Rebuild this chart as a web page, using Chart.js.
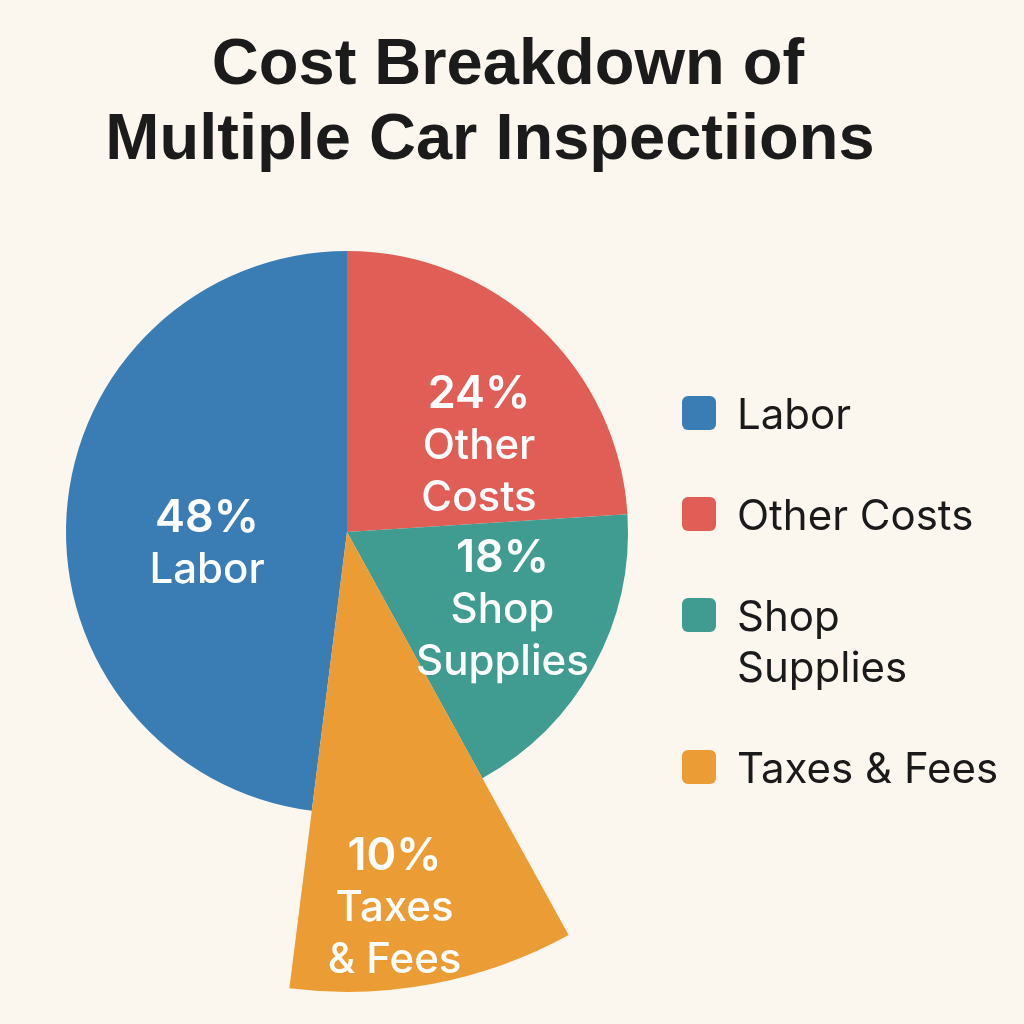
<!DOCTYPE html>
<html>
<head>
<meta charset="utf-8">
<script src="https://cdn.jsdelivr.net/npm/chart.js@4.4.1/dist/chart.umd.min.js"></script>
<style>
  html, body { margin: 0; padding: 0; background: #fcf7ee; }
  #wrap { position: relative; width: 1024px; height: 1024px; overflow: hidden; background: #fcf7ee; }
  #pie { position: absolute; left: 0; top: 0; }
  .title { position: absolute; left: 0; top: 24px; width: 1024px; text-align: center;
           font-family: 'Liberation Sans', Arial, sans-serif; font-weight: bold;
           font-size: 65px; line-height: 75px; color: #1b1b1b; }
  .title div { position: relative; }
  #legend { position: absolute; left: 682px; top: 388px; font-family: Inter, sans-serif;
            font-size: 42px; line-height: 51px; color: #1a1a1a; }
  .item { display: flex; align-items: flex-start; margin-bottom: 50px; }
  .box { flex: none; width: 34px; height: 34px; border-radius: 6px; margin-top: 8px; margin-right: 21px; }
</style>
</head>
<body>
<div id="wrap">
  <canvas id="pie" width="1024" height="1024"></canvas>
  <div class="title">
    <div style="left:-4px">Cost Breakdown of</div>
    <div style="left:-22px">Multiple Car Inspectiions</div>
  </div>
  <div id="legend"></div>
</div>
<script>
// datos del grafico
const categories = ['Labor', 'Other Costs', 'Shop Supplies', 'Taxes & Fees'];
const shares = [48, 24, 18, 10];
const sliceColors = ['#3a7db4', '#e05e56', '#409b91', '#ec9c34'];
const sliceLines = [['Labor'], ['Other', 'Costs'], ['Shop', 'Supplies'], ['Taxes', '& Fees']];
const legendLines = [['Labor'], ['Other Costs'], ['Shop', 'Supplies'], ['Taxes & Fees']];

// donde va cada texto dentro de su porcion (fraccion del angulo, fraccion del radio)
const labelPlace = [
    { t: 0.45, r: 0.50 },
    { t: 0.66, r: 0.56 },
    { t: 0.47, r: 0.62 },
    { t: 0.60, r: 1.35 }
];
const pieRadius = 281;
const taxesRadius = 460; // la porcion de impuestos sale del circulo

const total = shares.reduce((a, b) => a + b, 0);

// la porcion de impuestos se dibuja mas larga que las demas
const pullOut = {
    id: 'pullOut',
    afterDatasetsUpdate(chart) {
        const arcs = chart.getDatasetMeta(0).data;
        arcs[3].outerRadius = taxesRadius;
    }
};

// textos blancos dentro de cada porcion
const sliceText = {
    id: 'sliceText',
    afterDatasetsDraw(chart) {
        const ctx = chart.ctx;
        const meta = chart.getDatasetMeta(0);
        const base = meta.controller.outerRadius;
        meta.data.forEach((arc, i) => {
            const p = labelPlace[i];
            const a = arc.startAngle + (arc.endAngle - arc.startAngle) * p.t;
            const cx = arc.x + Math.cos(a) * base * p.r;
            const cy = arc.y + Math.sin(a) * base * p.r;
            const lines = [shares[i] + '%'].concat(sliceLines[i]);
            const step = 52;
            let y = cy - (lines.length - 1) / 2 * step;
            ctx.save();
            ctx.fillStyle = '#ffffff';
            ctx.textAlign = 'center';
            ctx.textBaseline = 'middle';
            lines.forEach((txt, k) => {
                ctx.font = k === 0 ? '600 45px Inter' : '500 42px Inter';
                ctx.fillText(txt, cx, y);
                y += step;
            });
            ctx.restore();
        });
    }
};

const ctx = document.getElementById('pie').getContext('2d');
const chart = new Chart(ctx, {
    type: 'pie',
    data: {
        labels: categories,
        datasets: [{
            data: shares,
            backgroundColor: sliceColors,
            borderWidth: 0,
            hoverOffset: 0,
            clip: false
        }]
    },
    options: {
        responsive: false,
        devicePixelRatio: 1,
        animation: false,
        events: [],
        rotation: 360 - shares[0] / total * 360,
        radius: pieRadius,
        layout: { padding: { left: 66, right: 396, top: 251, bottom: 211 } },
        plugins: {
            legend: { display: false },
            tooltip: { enabled: false }
        }
    },
    plugins: [pullOut, sliceText]
});

// leyenda a la derecha
const legend = document.getElementById('legend');
categories.forEach((name, i) => {
    const item = document.createElement('div');
    item.className = 'item';
    const box = document.createElement('div');
    box.className = 'box';
    box.style.background = sliceColors[i];
    const txt = document.createElement('div');
    txt.innerHTML = legendLines[i].join('<br>');
    item.appendChild(box);
    item.appendChild(txt);
    legend.appendChild(item);
});
</script>
</body>
</html>
